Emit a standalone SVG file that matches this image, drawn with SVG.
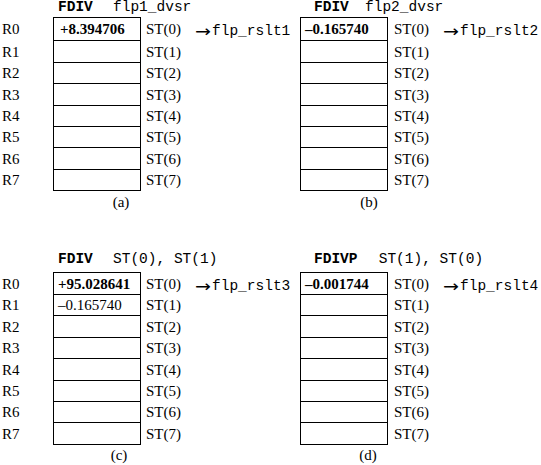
<svg xmlns="http://www.w3.org/2000/svg" width="541" height="465" viewBox="0 0 541 465">
<style>
.bg{fill:#fff}
.box{fill:none;stroke:#000;stroke-width:1}
.ln{stroke:#000;stroke-width:1}
.s{font-family:"Liberation Serif","Times New Roman",serif;font-size:15px;fill:#000}
.b{font-weight:bold}
.m{font-family:"Liberation Mono","Courier New",monospace;font-size:14.5px;fill:#000}
.ar{font-family:"DejaVu Sans",sans-serif;font-size:16px;fill:#000}
.c{text-anchor:middle}
</style>
<rect class="bg" x="0" y="0" width="541" height="465"/>
<g id="panel-a">
<text class="m b" x="58" y="11">FDIV</text><text class="m" x="113" y="11">flp1_dvsr</text>
<rect class="box" x="53.5" y="17.5" width="87" height="173"/>
<path class="ln" d="M53.5 40.5H140.5M53.5 62.5H140.5M53.5 83.5H140.5M53.5 105.5H140.5M53.5 126.5H140.5M53.5 147.5H140.5M53.5 169.5H140.5"/>
<text class="s b" x="60" y="34">+8.394706</text>
<text class="s" x="2" y="34">R0</text><text class="s" x="2" y="56.5">R1</text><text class="s" x="2" y="78">R2</text><text class="s" x="2" y="99.5">R3</text><text class="s" x="2" y="121">R4</text><text class="s" x="2" y="142">R5</text><text class="s" x="2" y="163.5">R6</text><text class="s" x="2" y="185">R7</text>
<text class="s" x="146" y="34">ST(0)</text><text class="s" x="146" y="56.5">ST(1)</text><text class="s" x="146" y="78">ST(2)</text><text class="s" x="146" y="99.5">ST(3)</text><text class="s" x="146" y="121">ST(4)</text><text class="s" x="146" y="142">ST(5)</text><text class="s" x="146" y="163.5">ST(6)</text><text class="s" x="146" y="185">ST(7)</text>
<text class="ar" x="195" y="37" textLength="16" lengthAdjust="spacingAndGlyphs">→</text><text class="m" x="212" y="35">flp_rslt1</text>
<text class="s c" x="121" y="207">(a)</text>
</g>
<g id="panel-b">
<text class="m b" x="314" y="11">FDIV</text><text class="m" x="365" y="11">flp2_dvsr</text>
<rect class="box" x="300.5" y="17.5" width="87" height="173"/>
<path class="ln" d="M300.5 40.5H387.5M300.5 62.5H387.5M300.5 83.5H387.5M300.5 105.5H387.5M300.5 126.5H387.5M300.5 147.5H387.5M300.5 169.5H387.5"/>
<text class="s b" x="305" y="34">–0.165740</text>
<text class="s" x="394" y="34">ST(0)</text><text class="s" x="394" y="56.5">ST(1)</text><text class="s" x="394" y="78">ST(2)</text><text class="s" x="394" y="99.5">ST(3)</text><text class="s" x="394" y="121">ST(4)</text><text class="s" x="394" y="142">ST(5)</text><text class="s" x="394" y="163.5">ST(6)</text><text class="s" x="394" y="185">ST(7)</text>
<text class="ar" x="443" y="37" textLength="16" lengthAdjust="spacingAndGlyphs">→</text><text class="m" x="460" y="35">flp_rslt2</text>
<text class="s c" x="369" y="207">(b)</text>
</g>
<g id="panel-c">
<text class="m b" x="58" y="263">FDIV</text><text class="m" x="113" y="263">ST(0), ST(1)</text>
<rect class="box" x="53.5" y="272.5" width="87" height="172"/>
<path class="ln" d="M53.5 294.5H140.5M53.5 315.5H140.5M53.5 337.5H140.5M53.5 358.5H140.5M53.5 380.5H140.5M53.5 401.5H140.5M53.5 422.5H140.5"/>
<text class="s b" x="58" y="288.5">+95.028641</text>
<text class="s" x="58" y="310">–0.165740</text>
<text class="s" x="2" y="288.5">R0</text><text class="s" x="2" y="310">R1</text><text class="s" x="2" y="331.5">R2</text><text class="s" x="2" y="353">R3</text><text class="s" x="2" y="374.5">R4</text><text class="s" x="2" y="396">R5</text><text class="s" x="2" y="417">R6</text><text class="s" x="2" y="438.5">R7</text>
<text class="s" x="146" y="288.5">ST(0)</text><text class="s" x="146" y="310">ST(1)</text><text class="s" x="146" y="331.5">ST(2)</text><text class="s" x="146" y="353">ST(3)</text><text class="s" x="146" y="374.5">ST(4)</text><text class="s" x="146" y="396">ST(5)</text><text class="s" x="146" y="417">ST(6)</text><text class="s" x="146" y="438.5">ST(7)</text>
<text class="ar" x="195" y="291.5" textLength="16" lengthAdjust="spacingAndGlyphs">→</text><text class="m" x="212" y="289.5">flp_rslt3</text>
<text class="s c" x="119" y="460">(c)</text>
</g>
<g id="panel-d">
<text class="m b" x="314" y="263">FDIVP</text><text class="m" x="378.7" y="263">ST(1), ST(0)</text>
<rect class="box" x="300.5" y="272.5" width="87" height="172"/>
<path class="ln" d="M300.5 294.5H387.5M300.5 315.5H387.5M300.5 337.5H387.5M300.5 358.5H387.5M300.5 380.5H387.5M300.5 401.5H387.5M300.5 422.5H387.5"/>
<text class="s b" x="305" y="288.5">–0.001744</text>
<text class="s" x="394" y="288.5">ST(0)</text><text class="s" x="394" y="310">ST(1)</text><text class="s" x="394" y="331.5">ST(2)</text><text class="s" x="394" y="353">ST(3)</text><text class="s" x="394" y="374.5">ST(4)</text><text class="s" x="394" y="396">ST(5)</text><text class="s" x="394" y="417">ST(6)</text><text class="s" x="394" y="438.5">ST(7)</text>
<text class="ar" x="443" y="291.5" textLength="16" lengthAdjust="spacingAndGlyphs">→</text><text class="m" x="460" y="289.5">flp_rslt4</text>
<text class="s c" x="368" y="460">(d)</text>
</g>
</svg>
